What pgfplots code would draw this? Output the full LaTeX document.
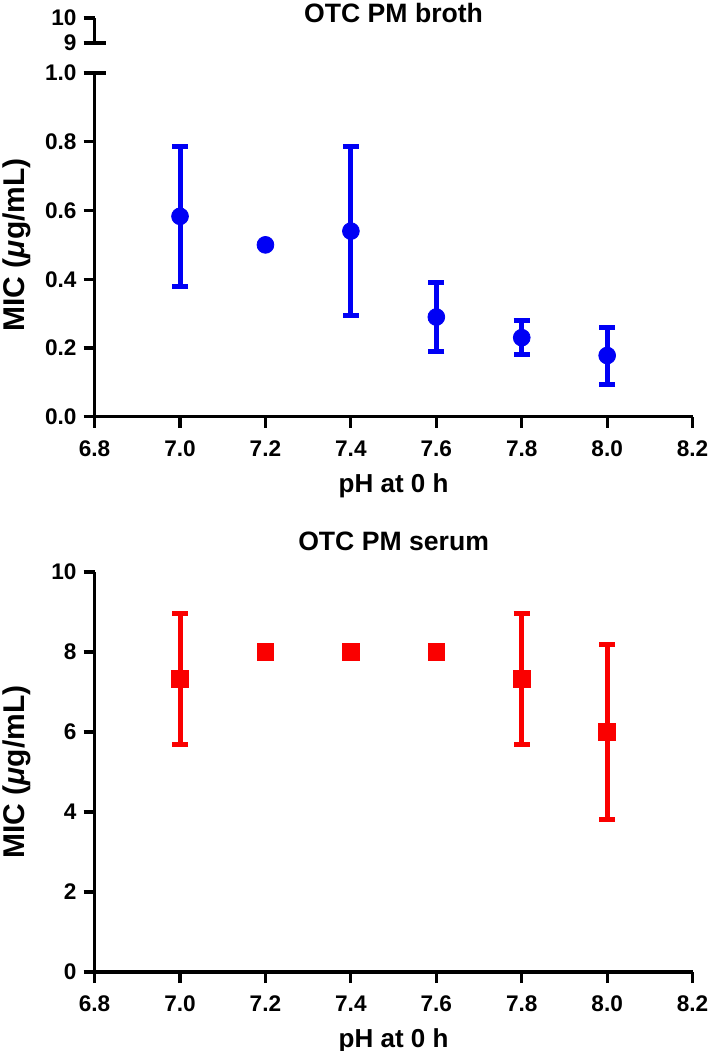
\documentclass[border=0pt]{standalone}
\usepackage{fontspec}
\setmainfont{Liberation Sans}
\usepackage{pgfplots}
\usepackage{pgfplotstable}
\pgfplotsset{compat=1.18}

\definecolor{myblue}{RGB}{0,0,245}
\definecolor{myred}{RGB}{250,0,0}

\pgfplotstableread{
x y e
7.0 0.583 0.204
7.4 0.540 0.245
7.6 0.290 0.100
7.8 0.230 0.050
8.0 0.178 0.083
}\brotherr
\pgfplotstableread{
x y
7.2 0.50
}\brothnoerr
\pgfplotstableread{
x y e
7.0 7.33 1.63
7.8 7.33 1.63
8.0 6.00 2.19
}\serumerr
\pgfplotstableread{
x y
7.2 8.0
7.4 8.0
7.6 8.0
}\serumnoerr

\pgfplotsset{
  mystyle/.style={
    scale only axis, width=299pt,
    axis lines=left, axis line style={-, line width=1.6pt},
    tick style={line width=1.6pt, black}, major tick length=5.5pt, tick align=outside,
    xmin=6.8, xmax=8.2,
    xtick={6.8,7.0,7.2,7.4,7.6,7.8,8.0,8.2},
    /pgf/number format/assume math mode=true,
    ticklabel style={font=\bfseries\fontsize{11.3}{13}\selectfont},
    xticklabel style={yshift=-3pt, /pgf/number format/.cd, fixed, fixed zerofill, precision=1},
    label style={font=\bfseries\fontsize{13}{15}\selectfont},
    title style={font=\bfseries\fontsize{13.3}{15}\selectfont},
    xlabel={pH at 0 h},
    ylabel={MIC (\textit{μ}g/mL)},
    xlabel style={at={(axis description cs:0.5,0)}, anchor=center, yshift=-34.5pt},
    ylabel style={font=\bfseries\fontsize{15}{17}\selectfont, at={(axis description cs:-0.1304,0.5)}, anchor=center},
    clip=false,
  },
  errstyle/.style={only marks, color=#1, error bars/.cd, y dir=both, y explicit,
    error bar style={line width=2.5pt, color=#1},
    error mark options={rotate=90, mark size=4pt, line width=2.5pt, color=#1},
    /pgfplots/.cd},
}

\begin{document}
\begin{tikzpicture}
\useasboundingbox (0,0) rectangle (354.5pt,-525.5pt);

% upper segment of the broken axis (9-10)
\begin{axis}[scale only axis, width=299pt, height=12.5pt,
  at={(47.3pt,-21.5pt)}, anchor=south west,
  xmin=6.8, xmax=8.2, ymin=9, ymax=10,
  axis x line=none, axis y line=left, axis line style={-, line width=1.6pt},
  tick style={line width=1.6pt, black}, major tick length=5.5pt, tick align=outside,
  ytick={9,10},
  /pgf/number format/assume math mode=true,
  ticklabel style={font=\bfseries\fontsize{11.3}{13}\selectfont},
  extra y ticks={9}, extra y tick labels={},
  extra y tick style={tick align=inside},
  title={OTC PM broth},
  title style={font=\bfseries\fontsize{13.3}{15}\selectfont, at={(axis description cs:0.5,1)}, anchor=center, yshift=-3.5pt},
  clip=false]
\addplot[draw=none] coordinates {(7.0,9.5)};
\end{axis}

% lower segment (0-1)
\begin{axis}[mystyle, at={(47.3pt,-208.35pt)}, anchor=south west, height=171.85pt,
  ymin=0, ymax=1, ytick={0,0.2,0.4,0.6,0.8,1.0},
  yticklabel style={/pgf/number format/.cd, fixed, fixed zerofill, precision=1},
  extra y ticks={1}, extra y tick labels={},
  extra y tick style={tick align=inside}]
\addplot[mark=*, mark size=4.2pt, errstyle=myblue] table[x=x, y=y, y error=e] {\brotherr};
\addplot[only marks, color=myblue, mark=*, mark size=4.2pt] table[x=x, y=y] {\brothnoerr};
\end{axis}

% serum panel
\begin{axis}[mystyle, at={(47.3pt,-486pt)}, anchor=south west, height=200pt,
  ymin=0, ymax=10, ytick={0,2,4,6,8,10},
  title={OTC PM serum},
  title style={at={(axis description cs:0.5,1)}, anchor=center, yshift=9.5pt}]
\addplot[mark=square*, mark size=4.2pt, errstyle=myred] table[x=x, y=y, y error=e] {\serumerr};
\addplot[only marks, color=myred, mark=square*, mark size=4.2pt] table[x=x, y=y] {\serumnoerr};
\end{axis}
\end{tikzpicture}
\end{document}
